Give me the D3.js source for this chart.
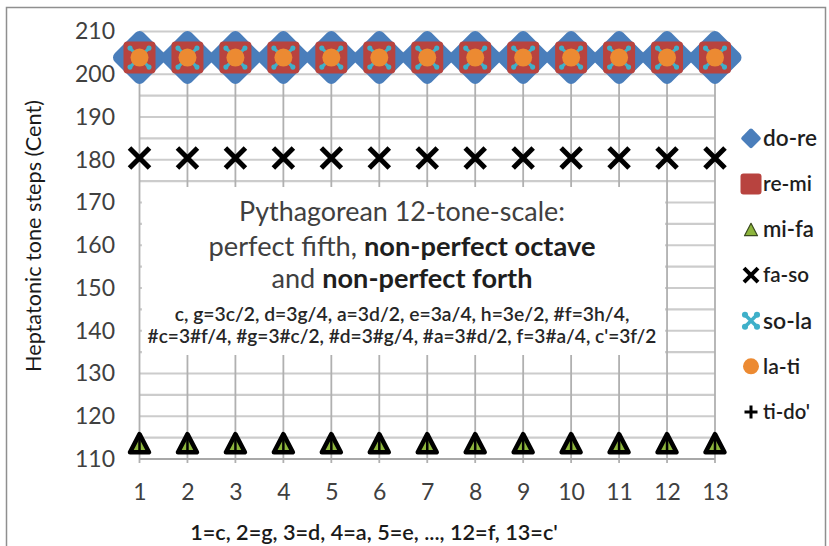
<!DOCTYPE html>
<html>
<head>
<meta charset="utf-8">
<script src="https://cdn.jsdelivr.net/npm/d3@7"></script>
<style>
  html, body { margin: 0; padding: 0; background: #fff; }
  svg { display: block; }
  text { font-family: Lato, "Open Sans", sans-serif; }
</style>
</head>
<body>
<svg id="chart" width="829" height="546"></svg>
<script>
// Interval positions along the chain of fifths
const categories = [1, 2, 3, 4, 5, 6, 7, 8, 9, 10, 11, 12, 13];

// Step sizes in cents for each interval of the heptatonic scale
const doRe = [203.9, 203.9, 203.9, 203.9, 203.9, 203.9, 203.9, 203.9, 203.9, 203.9, 203.9, 203.9, 203.9];
const reMi = [203.9, 203.9, 203.9, 203.9, 203.9, 203.9, 203.9, 203.9, 203.9, 203.9, 203.9, 203.9, 203.9];
const miFa = [113.7, 113.7, 113.7, 113.7, 113.7, 113.7, 113.7, 113.7, 113.7, 113.7, 113.7, 113.7, 113.7];
const faSo = [180.4, 180.4, 180.4, 180.4, 180.4, 180.4, 180.4, 180.4, 180.4, 180.4, 180.4, 180.4, 180.4];
const soLa = [203.9, 203.9, 203.9, 203.9, 203.9, 203.9, 203.9, 203.9, 203.9, 203.9, 203.9, 203.9, 203.9];
const laTi = [203.9, 203.9, 203.9, 203.9, 203.9, 203.9, 203.9, 203.9, 203.9, 203.9, 203.9, 203.9, 203.9];
const tiDo = [90.2, 90.2, 90.2, 90.2, 90.2, 90.2, 90.2, 90.2, 90.2, 90.2, 90.2, 90.2, 90.2];

const seriesNames = ["do-re", "re-mi", "mi-fa", "fa-so", "so-la", "la-ti", "ti-do'"];
const yTicks = [110, 120, 130, 140, 150, 160, 170, 180, 190, 200, 210];
const yGrid = [110, 115, 120, 125, 130, 135, 140, 145, 150, 155, 160, 165, 170, 175, 180, 185, 190, 195, 200, 205, 210];

const yTitle = "Heptatonic tone steps (Cent)";
const xTitle = "1=c, 2=g, 3=d, 4=a, 5=e, ..., 12=f, 13=c'";
const noteLines = [
  [{t: "Pythagorean 12-tone-scale:", b: false}],
  [{t: "perfect fifth, ", b: false}, {t: "non-perfect octave", b: true}],
  [{t: "and ", b: false}, {t: "non-perfect forth", b: true}],
  [{t: "c, g=3c/2, d=3g/4, a=3d/2, e=3a/4, h=3e/2, #f=3h/4,", b: false}],
  [{t: "#c=3#f/4, #g=3#c/2, #d=3#g/4, #a=3#d/2, f=3#a/4, c'=3f/2", b: false}]
];

const colors = {
  blue: "#4a7ebb", red: "#b8433f", green: "#8db53c",
  teal: "#3fb0c9", orange: "#ec8a32", black: "#000"
};

const svg = d3.select("#chart");

const x = d3.scaleLinear().domain([1, 13]).range([139.5, 715]);
const y = d3.scaleLinear().domain([110, 210]).range([459, 31.5]);

// Outer chart frame
svg.append("rect").attr("x", 6.5).attr("y", 7.5).attr("width", 819).attr("height", 600)
  .attr("fill", "#fff").attr("stroke", "#8f8f8f").attr("stroke-width", 1.5);

// Gridlines
const grid = svg.append("g");
grid.selectAll("line.h").data(yGrid).join("line").attr("class", "h")
  .attr("x1", x(1)).attr("x2", x(13))
  .attr("y1", d => y(d)).attr("y2", d => y(d))
  .attr("stroke", "#cccccc").attr("stroke-width", 2.2);
grid.selectAll("line.v").data(categories).join("line").attr("class", "v")
  .attr("x1", d => x(d)).attr("x2", d => x(d))
  .attr("y1", y(210)).attr("y2", y(110) + 4)
  .attr("stroke", "#b0b0b0").attr("stroke-width", 1.8);
// bottom axis line
svg.append("line").attr("x1", x(1)).attr("x2", x(13)).attr("y1", y(110)).attr("y2", y(110))
  .attr("stroke", "#a8a8a8").attr("stroke-width", 2);

// Axis tick labels
const yAxis = d3.axisLeft(y).tickValues(yTicks).tickSize(0).tickPadding(0);
const gy = svg.append("g").attr("transform", `translate(${115},0)`).call(yAxis);
gy.select(".domain").remove();
gy.selectAll("text").attr("font-size", 23).attr("fill", "#404040")
  .style("font-family", "Lato, sans-serif");

const xAxis = d3.axisBottom(x).tickValues(categories).tickSize(0).tickPadding(0).tickFormat(d3.format("d"));
const gx = svg.append("g").attr("transform", `translate(0,${484})`).call(xAxis);
gx.select(".domain").remove();
gx.selectAll("text").attr("font-size", 23).attr("fill", "#404040")
  .style("font-family", "Lato, sans-serif");

// Scale a text element's font so its rendered width matches a given width
function fitWidth(sel, width) {
  const node = sel.node();
  const fs = parseFloat(sel.attr("font-size"));
  const w = node.getComputedTextLength();
  sel.attr("font-size", fs * width / w);
}

// Axis titles
const yt = svg.append("text").attr("transform", "translate(33,236) rotate(-90)")
  .attr("text-anchor", "middle").attr("dy", "0.35em").attr("font-size", 18)
  .attr("fill", "#1a1a1a").text(yTitle);
fitWidth(yt, 272);

const xt = svg.append("text").attr("x", 374).attr("y", 532)
  .attr("text-anchor", "middle").attr("dy", "0.35em").attr("font-size", 17)
  .attr("fill", "#1a1a1a").attr("font-weight", 600).text(xTitle);
fitWidth(xt, 368);

// Text box over the plot
svg.append("rect").attr("x", 142).attr("y", 187).attr("width", 523).attr("height", 168).attr("fill", "#fff");
const lineY = [212, 246, 279, 314, 336];
const lineW = [326, 387, 261, 455, 509];
const lineFs = [24, 24, 24, 16, 16];
noteLines.forEach((parts, i) => {
  const t = svg.append("text").attr("x", 402).attr("y", lineY[i]).attr("dy", "0.35em")
    .attr("text-anchor", "middle").attr("font-size", lineFs[i]);
  parts.forEach(p => {
    t.append("tspan").text(p.t)
      .attr("font-weight", p.b ? 700 : (i >= 3 ? 600 : 400))
      .attr("fill", p.b ? "#1e1e1e" : (i >= 3 ? "#262626" : "#404040"));
  });
  fitWidth(t, lineW[i]);
});

// Marker painters
function diamond(g, s, r) {
  g.append("rect").attr("x", -s / 2).attr("y", -s / 2).attr("width", s).attr("height", s)
    .attr("rx", r).attr("transform", "rotate(45)").attr("fill", colors.blue);
}
function square(g, s, r) {
  g.append("rect").attr("x", -s / 2).attr("y", -s / 2).attr("width", s).attr("height", s)
    .attr("rx", r).attr("fill", colors.red);
}
function triangle(g, s, big) {
  const h = s * 0.95;
  g.append("path").attr("d", `M0,${-h / 2}L${s / 2},${h / 2}L${-s / 2},${h / 2}Z`)
    .attr("fill", colors.green).attr("stroke", big ? "#000" : "#3a4a1e")
    .attr("stroke-width", big ? 4.5 : 1.2).attr("stroke-linejoin", "round");
  if (big) {
    g.append("line").attr("x1", 0).attr("x2", 0).attr("y1", -h / 2).attr("y2", h / 2)
      .attr("stroke", "#000").attr("stroke-width", 2.5);
  }
}
function cross(g, s, w) {
  const a = s / 2;
  g.append("path").attr("d", `M${-a},${-a}L${a},${a}M${a},${-a}L${-a},${a}`)
    .attr("stroke", "#000").attr("stroke-width", w).attr("stroke-linecap", "butt");
}
function star(g, s, w) {
  const a = s / 2;
  g.append("path").attr("d", `M${-a},${-a}L${a},${a}M${a},${-a}L${-a},${a}`)
    .attr("stroke", colors.teal).attr("stroke-width", w).attr("stroke-linecap", "round");
  [[-a, -a], [a, -a], [-a, a], [a, a]].forEach(([px, py]) => {
    g.append("circle").attr("cx", px).attr("cy", py).attr("r", w * 0.85).attr("fill", colors.teal);
  });
}
function circle(g, s) {
  g.append("circle").attr("r", s / 2).attr("fill", colors.orange);
}
function plus(g, s, w) {
  const a = s / 2;
  g.append("path").attr("d", `M${-a},0L${a},0M0,${-a}L0,${a}`)
    .attr("stroke", "#000").attr("stroke-width", w);
}

const series = [
  {values: doRe, draw: g => diamond(g, 41, 6), legend: g => diamond(g, 15, 2)},
  {values: reMi, draw: g => square(g, 32, 4), legend: g => square(g, 21, 3)},
  {values: miFa, draw: g => triangle(g, 19, true), legend: g => triangle(g, 13, false)},
  {values: faSo, draw: g => cross(g, 20, 5), legend: g => cross(g, 14, 4)},
  {values: soLa, draw: g => star(g, 19, 3), legend: g => star(g, 12, 3.6)},
  {values: laTi, draw: g => circle(g, 18), legend: g => circle(g, 16)},
  {values: tiDo, draw: g => plus(g, 14, 3), legend: g => plus(g, 13, 3)}
];

// Data points (values outside the axis range are not shown)
series.forEach(s => {
  const pts = categories.map((c, i) => ({c, v: s.values[i]}))
    .filter(d => d.v >= y.domain()[0] && d.v <= y.domain()[1]);
  svg.append("g").selectAll("g").data(pts).join("g")
    .attr("transform", d => `translate(${x(d.c)},${y(d.v)})`)
    .each(function () { s.draw(d3.select(this)); });
});

// Legend
const legend = svg.append("g");
const legendW = [54, 49, 51, 46, 49, 37, 47];
seriesNames.forEach((name, i) => {
  const cy = 138.3 + i * 45.6;
  const g = legend.append("g").attr("transform", `translate(751,${cy})`);
  series[i].legend(g);
  const t = legend.append("text").attr("x", 763).attr("y", cy).attr("dy", "0.35em")
    .attr("font-size", 20).attr("font-weight", 600).attr("fill", "#1e1e1e").text(name);
  fitWidth(t, legendW[i]);
});
</script>
</body>
</html>
